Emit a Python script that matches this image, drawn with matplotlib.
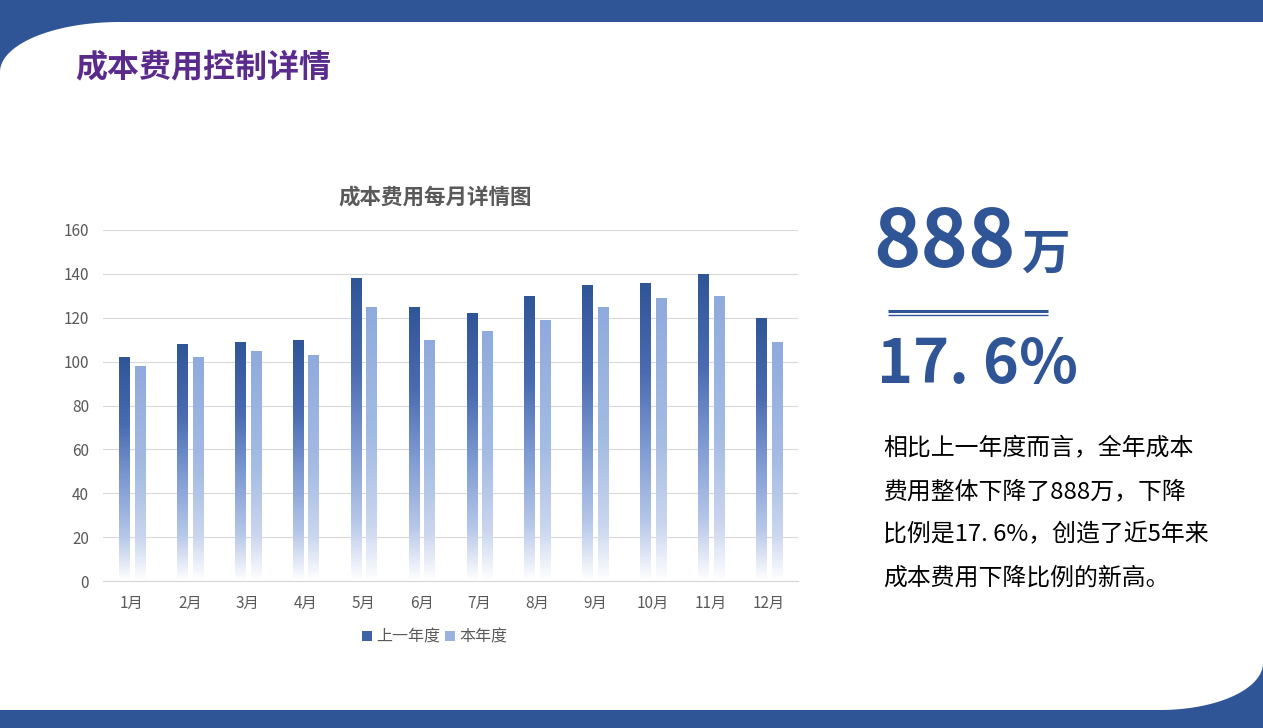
import numpy as np
import matplotlib
matplotlib.use("Agg")
import matplotlib.pyplot as plt
from matplotlib.colors import LinearSegmentedColormap
from matplotlib.patches import Polygon, Patch

plt.rcParams['font.family'] = ['Noto Sans CJK SC', 'DejaVu Sans']

# ---------------- data ----------------
months = ["1月", "2月", "3月", "4月", "5月", "6月", "7月", "8月", "9月", "10月", "11月", "12月"]
last_year = [102, 108, 109, 110, 138, 125, 122, 130, 135, 136, 140, 120]
this_year = [98, 102, 105, 103, 125, 110, 114, 119, 125, 129, 130, 109]
series_names = ["上一年度", "本年度"]
y_ticks = [0, 20, 40, 60, 80, 100, 120, 140, 160]

page_title = "成本费用控制详情"
chart_title = "成本费用每月详情图"
big_number = "888"
big_unit = "万"
big_pct = "17. 6%"
paragraph = ["相比上一年度而言，全年成本",
             "费用整体下降了888万，下降",
             "比例是17. 6%，创造了近5年来",
             "成本费用下降比例的新高。"]

BLUE = "#2F5597"
W, H = 1263, 728
fig = plt.figure(figsize=(W / 100, H / 100), dpi=100)
fig.patch.set_facecolor("white")

# ---------------- background decorations (pixel coords) ----------------
bg = fig.add_axes([0, 0, 1, 1])
bg.set_xlim(0, W)
bg.set_ylim(H, 0)
bg.axis("off")

t = np.linspace(np.pi, 1.5 * np.pi, 60)
cx, cy, rx, ry = 120, 72, 120, 50
curve_top = np.column_stack([cx + rx * np.cos(t), cy + ry * np.sin(t)])  # from (0,72) to (120,22)
top_poly = np.vstack([[[0, 0], [W, 0], [W, 22]], curve_top[::-1], [[0, 72]]])
bg.add_patch(Polygon(top_poly, closed=True, facecolor=BLUE, edgecolor="none"))

t2 = np.linspace(0, 0.5 * np.pi, 60)
cx2, cy2, rx2, ry2 = 1160, 663, 103, 47
curve_bot = np.column_stack([cx2 + rx2 * np.cos(t2), cy2 + ry2 * np.sin(t2)])  # (1263,663)->(1160,710)
bot_poly = np.vstack([[[0, H], [W, H]], curve_bot, [[0, 710]]])
bg.add_patch(Polygon(bot_poly, closed=True, facecolor=BLUE, edgecolor="none"))

# page title
bg.text(75, 67, page_title, fontsize=23, fontweight="bold", color="#5A2A8C",
        ha="left", va="center")

# right side numbers
bg.text(873, 243, big_number, fontsize=58, fontweight="bold", color=BLUE,
        ha="left", va="center")
bg.text(1021, 254, big_unit, fontsize=35, fontweight="bold", color=BLUE,
        ha="left", va="center")
bg.plot([888, 1048], [310.5, 310.5], color=BLUE, lw=2.2, solid_capstyle="butt")
bg.plot([888, 1048], [314.5, 314.5], color=BLUE, lw=1.0, solid_capstyle="butt")
bg.text(877, 365, big_pct, fontsize=44, fontweight="bold", color=BLUE,
        ha="left", va="center")
for i, line in enumerate(paragraph):
    bg.text(883, 449 + 43 * i, line, fontsize=17.2, color="black",
            ha="left", va="center")

# chart title
bg.text(435, 197, chart_title, fontsize=15.5, fontweight="bold", color="#595959",
        ha="center", va="center")

# ---------------- chart ----------------
ax = fig.add_axes([103 / W, (H - 581) / H, 695 / W, 351 / H])
ax.set_facecolor("none")

dark_cmap = LinearSegmentedColormap.from_list(
    "dark", [(0.0, "#FFFFFF"), (0.2, "#B5C6E8"), (0.45, "#7E9AD2"),
             (0.7, "#4A6BB0"), (1.0, BLUE)])
light_cmap = LinearSegmentedColormap.from_list(
    "light", [(0.0, "#FFFFFF"), (0.2, "#CAD6EE"), (0.5, "#A5BCE3"),
              (1.0, "#8FAADC")])

x = np.arange(len(months))
off, bw = 0.135, 0.175
bars1 = ax.bar(x - off, last_year, width=bw, facecolor="none", edgecolor="none", zorder=3)
bars2 = ax.bar(x + off, this_year, width=bw, facecolor="none", edgecolor="none", zorder=3)

grad = np.linspace(0, 1, 256).reshape(-1, 1)
for bars, cmap in ((bars1, dark_cmap), (bars2, light_cmap)):
    for rect in bars:
        x0, y0 = rect.get_x(), rect.get_y()
        w, h = rect.get_width(), rect.get_height()
        im = ax.imshow(grad, extent=(x0, x0 + w, y0, y0 + h), origin="lower",
                       cmap=cmap, aspect="auto", interpolation="bilinear", zorder=2)
        im.set_clip_path(rect)

ax.set_xlim(-0.5, len(months) - 0.5)
ax.set_ylim(0, 160)
ax.set_yticks(y_ticks)
ax.set_xticks(x)
ax.set_xticklabels(months)
ax.tick_params(axis="both", length=0, labelsize=11, labelcolor="#595959")
ax.tick_params(axis="y", pad=10)
ax.tick_params(axis="x", pad=10)
ax.grid(axis="y", color="#D9D9D9", lw=0.8, zorder=0)
ax.set_axisbelow(True)
for s in ["top", "right", "left"]:
    ax.spines[s].set_visible(False)
ax.spines["bottom"].set_color("#D9D9D9")
ax.spines["bottom"].set_linewidth(0.9)

handles = [Patch(facecolor="#3F62A5", edgecolor="none", label=series_names[0]),
           Patch(facecolor="#9AB2DF", edgecolor="none", label=series_names[1])]
leg = fig.legend(handles=handles, loc="center", bbox_to_anchor=(435 / W, (H - 637) / H),
                 ncol=2, frameon=False, fontsize=11.5, handlelength=0.6, handleheight=0.6,
                 handletextpad=0.3, columnspacing=0.3, labelcolor="#595959")

fig.savefig("out.png", dpi=100)
